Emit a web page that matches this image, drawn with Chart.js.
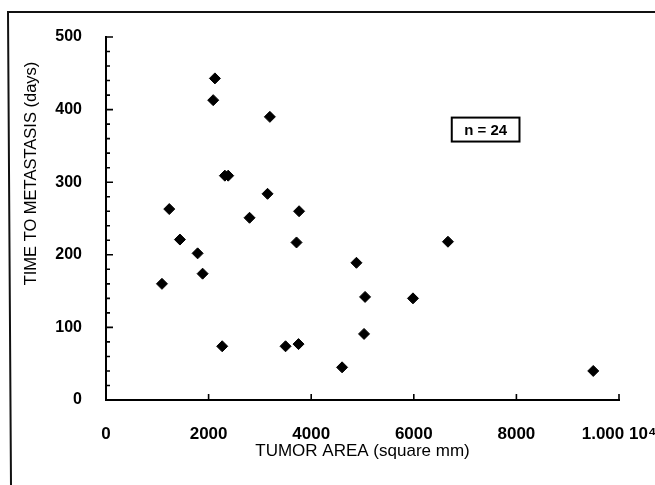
<!DOCTYPE html>
<html>
<head>
<meta charset="utf-8">
<script src="https://cdn.jsdelivr.net/npm/chart.js@4/dist/chart.umd.min.js"></script>
<style>
  html, body { margin: 0; padding: 0; background: #fff; }
  #wrap { width: 655px; height: 485px; }
</style>
</head>
<body>
<div id="wrap"><canvas id="metChart"></canvas></div>
<script>
// values
const tumorArea = [2123, 2090, 3194, 2317, 2382, 3149, 1233, 3764, 2798, 1441, 3714, 1786,
                   1883, 1091, 4882, 5050, 5030, 2265, 3500, 3753, 4602, 6666, 5984, 9498];
const timeToMetastasis = [443, 413, 390, 309, 309, 284, 263, 260, 251, 221, 217, 202,
                          174, 160, 189, 142, 91, 74, 74, 77, 45, 218, 140, 40];
const xTickLabels = ['0', '2000', '4000', '6000', '8000', '1.000 10\u2074'];
const yTitle = 'TIME TO METASTASIS (days)';
const xTitle = 'TUMOR AREA (square mm)';
const nLabel = 'n = 24';

const points = tumorArea.map((a, i) => ({ x: a, y: timeToMetastasis[i] }));

const FONT = '"Liberation Sans", Arial, sans-serif';
const ctx = document.getElementById('metChart');

// scanned frame, inward tick marks, y title (sits above centre in the scan) and the n box
const extras = {
    id: 'extras',
    beforeDraw(chart) {
        const c = chart.ctx;
        c.save();
        c.strokeStyle = '#111';
        c.lineWidth = 2;
        c.beginPath();
        c.moveTo(655, 12);
        c.lineTo(8, 12);
        c.lineTo(11, 485);
        c.stroke();
        c.restore();
    },
    afterDraw(chart) {
        const c = chart.ctx;
        const xs = chart.scales.x;
        const ys = chart.scales.y;
        const x0 = xs.left;
        const y0 = ys.bottom;
        c.save();
        c.strokeStyle = '#000';
        c.lineWidth = 1.6;
        c.beginPath();
        ys.ticks.forEach(t => {
            if (t.value === 0) return;
            const py = ys.getPixelForValue(t.value);
            const len = t.value % 100 === 0 ? 7 : 4;
            c.moveTo(x0, py);
            c.lineTo(x0 + len, py);
        });
        xs.ticks.forEach(t => {
            if (t.value === 0) return;
            const px = xs.getPixelForValue(t.value);
            c.moveTo(px, y0);
            c.lineTo(px, y0 - 6);
        });
        c.stroke();

        // y axis title
        c.fillStyle = '#000';
        c.font = '16.5px ' + FONT;
        c.textAlign = 'center';
        c.textBaseline = 'middle';
        c.translate(31, ys.getPixelForValue(312));
        c.rotate(-Math.PI / 2);
        c.fillText(yTitle, 0, 0);
        c.setTransform(1, 0, 0, 1, 0, 0);

        // n = 24 box
        const bx1 = xs.getPixelForValue(6740), bx2 = xs.getPixelForValue(8060);
        const by1 = ys.getPixelForValue(389), by2 = ys.getPixelForValue(356);
        c.lineWidth = 2;
        c.strokeRect(bx1, by1, bx2 - bx1, by2 - by1);
        c.font = 'bold 15px ' + FONT;
        c.fillText(nLabel, (bx1 + bx2) / 2, (by1 + by2) / 2 + 1);
        c.restore();
    }
};

new Chart(ctx, {
    type: 'scatter',
    data: {
        datasets: [{
            label: 'patients',
            data: points,
            pointStyle: 'rectRot',
            pointRadius: 5.5,
            pointHoverRadius: 5.5,
            backgroundColor: '#000',
            borderColor: '#000',
            borderWidth: 1,
        }],
    },
    options: {
        responsive: true,
        maintainAspectRatio: false,
        animation: false,
        events: [],
        layout: {
            padding: { top: 37, right: 36, bottom: 0, left: 0 }
        },
        plugins: {
            legend: { display: false },
            tooltip: { enabled: false }
        },
        scales: {
            x: {
                type: 'linear',
                min: 0,
                max: 10000,
                afterFit(scale) {
                    scale.height = 85;
                    scale.paddingLeft = 0;
                    scale.paddingRight = 0;
                },
                grid: { display: false, drawTicks: false },
                border: { display: true, color: '#000', width: 2 },
                ticks: {
                    stepSize: 2000,
                    padding: 24,
                    maxRotation: 0,
                    color: '#000',
                    font: { family: FONT, size: 17, weight: 'bold' },
                    callback: (v, i) => xTickLabels[i]
                },
                title: {
                    display: true,
                    text: xTitle,
                    color: '#000',
                    font: { family: FONT, size: 17 },
                    padding: { top: 0, bottom: 23 }
                }
            },
            y: {
                min: 0,
                max: 500,
                afterFit(scale) {
                    scale.width = 106;
                },
                grid: { display: false, drawTicks: false },
                border: { display: true, color: '#000', width: 2 },
                ticks: {
                    stepSize: 20,
                    padding: 24,
                    autoSkip: false,
                    color: '#000',
                    font: { family: FONT, size: 16, weight: 'bold' },
                    callback: v => (v % 100 === 0 ? String(v) : '')
                },
                title: { display: false }
            }
        }
    },
    plugins: [extras]
});
</script>
</body>
</html>
